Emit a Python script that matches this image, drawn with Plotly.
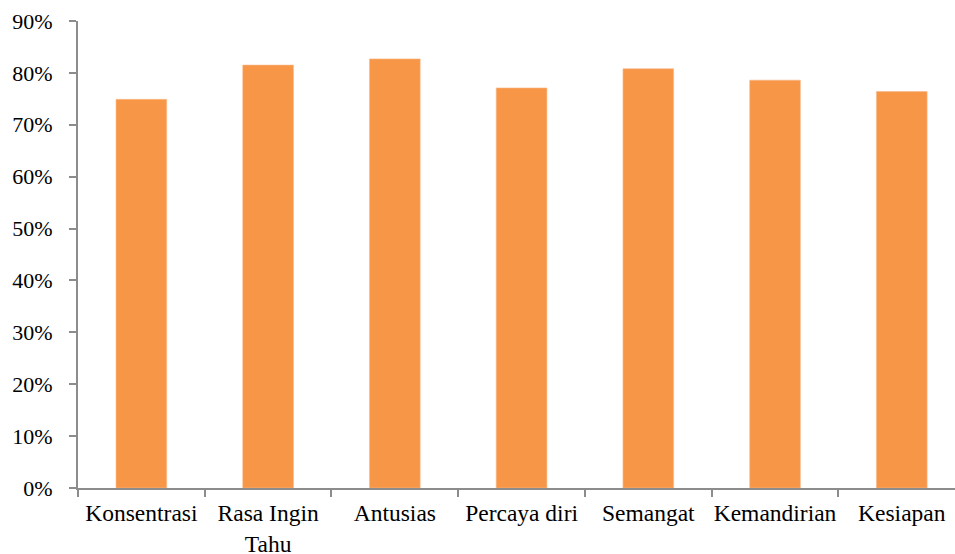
import plotly.graph_objects as go

categories = ["Konsentrasi", "Rasa Ingin<br>Tahu", "Antusias", "Percaya diri",
              "Semangat", "Kemandirian", "Kesiapan"]
values = [0.749, 0.815, 0.827, 0.771, 0.808, 0.786, 0.764]
y_ticks = [0, 0.1, 0.2, 0.3, 0.4, 0.5, 0.6, 0.7, 0.8, 0.9]

axis_color = "#8c8c8c"
family = "Liberation Serif, Times New Roman, serif"
font = dict(family=family, size=22, color="#000000")
xfont = dict(family=family, size=23.5, color="#000000")

fig = go.Figure(go.Bar(
    x=categories, y=values, width=0.4,
    marker=dict(color="#F79646", line=dict(color="#FAB98A", width=0.6)),
))

fig.update_layout(
    width=955, height=554,
    margin=dict(l=78, r=0, t=21, b=66),
    paper_bgcolor="white", plot_bgcolor="white",
    font=font, showlegend=False, bargap=0.6,
)
fig.update_xaxes(
    type="category", range=[-0.5, 6.42], tickangle=0, automargin=False,
    showline=True, linecolor=axis_color, linewidth=2,
    ticks="outside", tickson="boundaries", ticklen=7, tickcolor=axis_color, tickwidth=2,
    showgrid=False, tickfont=xfont, ticklabelstandoff=3,
)
fig.update_yaxes(
    range=[0, 0.9], tickvals=y_ticks, tickformat=".0%", automargin=False,
    showline=True, linecolor=axis_color, linewidth=2,
    ticks="outside", ticklen=7, tickcolor=axis_color, tickwidth=2,
    showgrid=False, zeroline=False, tickfont=font, ticklabelstandoff=12,
)

fig.write_html("out.html")
